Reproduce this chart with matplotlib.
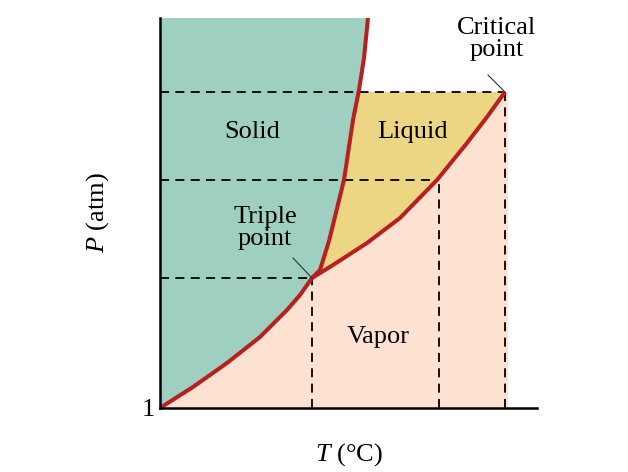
import numpy as np
import matplotlib.pyplot as plt

plt.rcParams['font.family'] = ['Liberation Serif', 'DejaVu Serif']
plt.rcParams['mathtext.fontset'] = 'custom'
plt.rcParams['mathtext.rm'] = 'Liberation Serif'
plt.rcParams['mathtext.it'] = 'Liberation Serif:italic'

# curve points (T, P) in arbitrary chart units
sub_T = [0, 33, 67, 100, 127, 140, 152]
sub_P = [0, 21, 45, 71, 98, 113, 130]
vap_T = [152, 173, 207, 240, 277, 307, 327, 345]
vap_P = [130, 143, 165, 190, 228, 265, 291, 316]
melt_T = [152, 160, 169, 184, 193, 199, 204, 208]
melt_P = [130, 138, 167, 228, 288, 318, 350, 390]

triple = (152, 130)
critical = (345, 316)
mid_T, mid_P = 279, 228

c_solid = '#9ecfc0'
c_liquid = '#ecd684'
c_vapor = '#fde2d2'
c_line = '#b81f1f'

fig = plt.figure(figsize=(6.28, 4.72), dpi=100)
ax = fig.add_axes([160 / 628, 64 / 472, 377 / 628, 390 / 472])
ax.set_xlim(0, 377)
ax.set_ylim(0, 390)

# solid region
xs = sub_T + melt_T[1:] + [0]
ys = sub_P + melt_P[1:] + [390]
ax.fill(xs, ys, color=c_solid, lw=0)

# vapor region
xs = sub_T + vap_T[1:] + [critical[0] + 3, critical[0] + 3]
ys = sub_P + vap_P[1:] + [critical[1], 0]
ax.fill(xs, ys, color=c_vapor, lw=0)

# liquid region
mT = [t for t, p in zip(melt_T, melt_P) if p < critical[1]]
mP = [p for p in melt_P if p < critical[1]]
top_T = np.interp(critical[1], melt_P, melt_T)
xs = mT + [top_T] + vap_T[::-1]
ys = mP + [critical[1]] + vap_P[::-1]
ax.fill(xs, ys, color=c_liquid, lw=0)

# dashed guides
dash = dict(color='black', lw=1.3, ls=(0, (5, 3.5)), zorder=2)
for t, p in [triple, (mid_T, mid_P), critical]:
    ax.plot([0, t], [p, p], **dash)
    ax.plot([t, t], [0, p], **dash)

# phase boundaries
for t, p in [(sub_T, sub_P), (vap_T, vap_P), (melt_T, melt_P)]:
    ax.plot(t, p, color=c_line, lw=2.9, solid_capstyle='butt',
            solid_joinstyle='round', zorder=3)

fs = 19
ax.text(92, 276, 'Solid', fontsize=fs, ha='center', va='center')
ax.text(253, 276, 'Liquid', fontsize=fs, ha='center', va='center')
ax.text(218, 71, 'Vapor', fontsize=fs, ha='center', va='center')
ax.text(105, 180, 'Triple\npoint', fontsize=fs, ha='center', va='center',
        linespacing=1.0)
ax.text(337, 369, 'Critical\npoint', fontsize=fs, ha='center', va='center',
        linespacing=1.0)
ax.plot([133, triple[0]], [150, triple[1]], color='#333333', lw=0.8, zorder=4)
ax.plot([328, critical[0]], [333, critical[1]], color='#333333', lw=0.8, zorder=4)

for s in ['top', 'right']:
    ax.spines[s].set_visible(False)
for s in ['left', 'bottom']:
    ax.spines[s].set_linewidth(1.8)
    ax.spines[s].set_zorder(5)
ax.set_xticks([])
ax.set_yticks([0])
ax.set_yticklabels(['1'], fontsize=fs)
ax.tick_params(axis='y', length=0, pad=4)

ax.set_xlabel(r'$T$ ($\degree$C)', fontsize=fs, labelpad=24)
ax.set_ylabel(r'$P$ (atm)', fontsize=fs, labelpad=22)

fig.savefig('out.png', dpi=100)
